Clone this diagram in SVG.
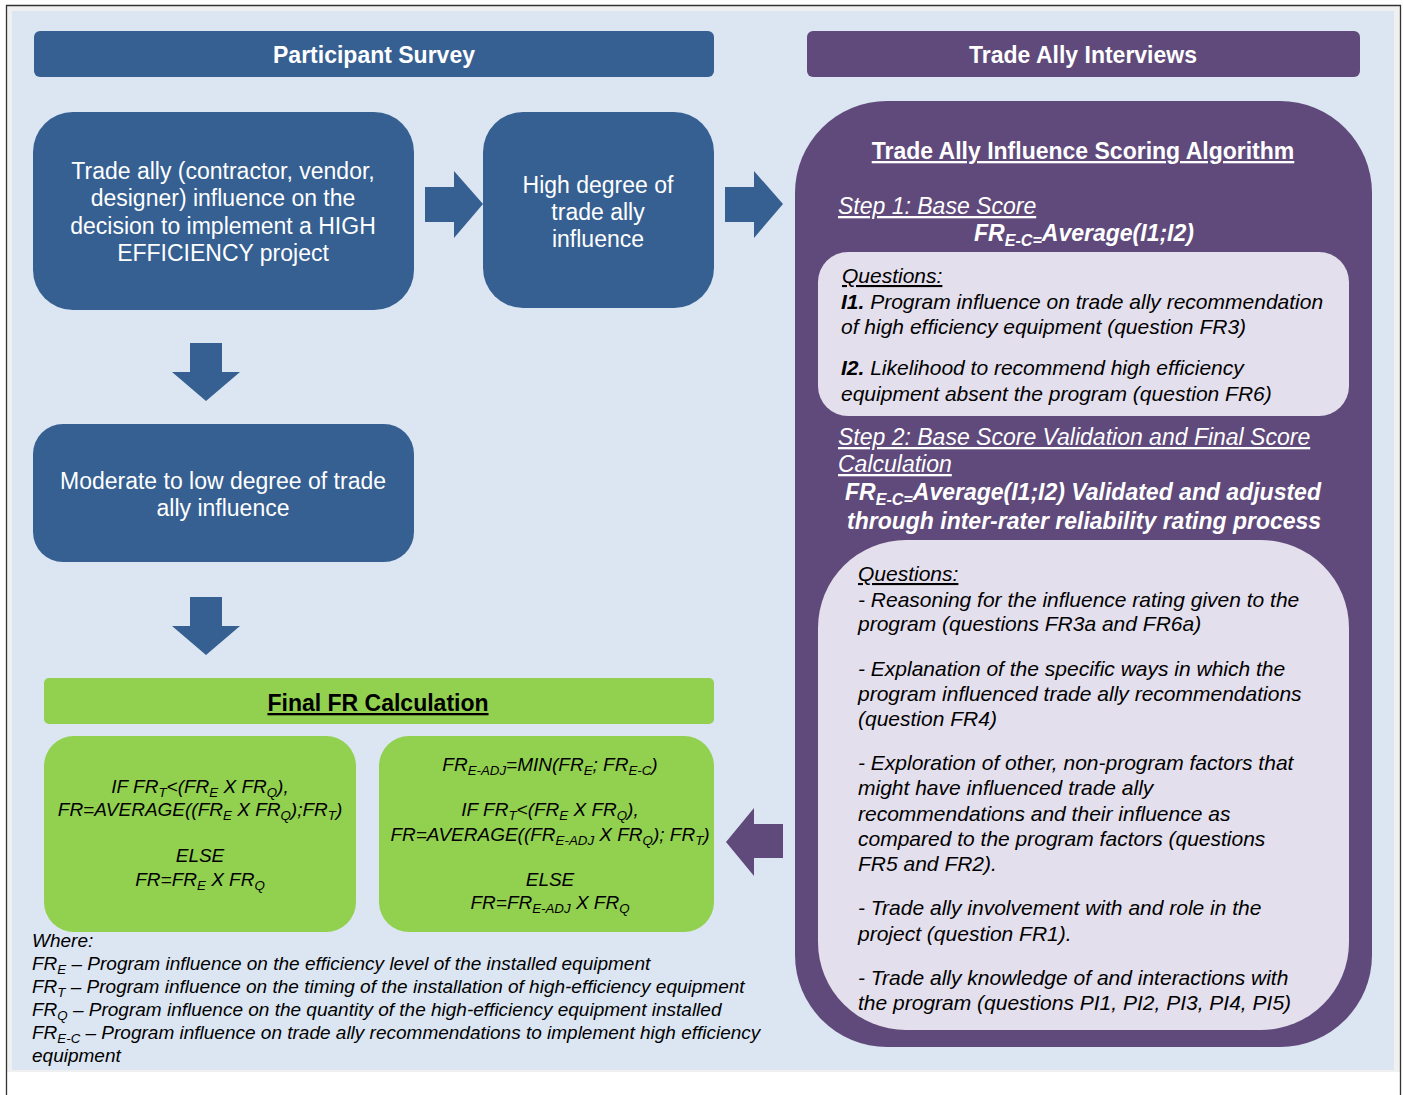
<svg xmlns="http://www.w3.org/2000/svg" width="1404" height="1095" viewBox="0 0 1404 1095">
<defs>
<style>
text{font-family:"Liberation Sans",Arial,sans-serif}
.blue{fill:#366092}
.purple{fill:#604A7B}
.green{fill:#92D050}
.lav{fill:#E4DFEC}
.wt{fill:#fff;font-size:23px;text-anchor:middle}
.hd{fill:#fff;font-size:23px;font-weight:bold;text-anchor:middle}
.pw{fill:#fff;font-size:23px;font-style:italic}
.fb{fill:#fff;font-size:23px;font-weight:bold;font-style:italic}
.q{fill:#000;font-size:21px;font-style:italic}
.f{fill:#000;font-size:19px;font-style:italic;text-anchor:middle}
.w{fill:#000;font-size:19px;font-style:italic}
.u{text-decoration:underline}
.s{font-size:70%}
</style>
</defs>
<rect x="0" y="0" width="1404" height="1095" fill="#fff"/>
<rect x="6" y="5" width="1394" height="1067" fill="#F0F0F0"/>
<path d="M6.5 1095 V5.5 H1400.5 V1095" fill="none" stroke="#333" stroke-width="1.3"/>
<rect x="12" y="11" width="1382" height="1059" fill="#DCE6F2"/>

<g id="connectors">
<polygon class="blue" points="425,187 454,187 454,171 483,204 454,238 454,222 425,222"/>
<polygon class="blue" points="725,187 754,187 754,171 783,204 754,238 754,222 725,222"/>
<polygon class="blue" points="190,343 222,343 222,372 240,372 206,401 172,372 190,372"/>
<polygon class="blue" points="190,597 222,597 222,626 240,626 206,655 172,626 190,626"/>
<polygon class="purple" points="783,824 754,824 754,808 726,842 754,876 754,858 783,858"/>
</g>

<g id="header-participant">
<rect class="blue" x="34" y="31" width="680" height="46" rx="6"/>
<text class="hd" x="374" y="63">Participant Survey</text>
</g>
<g id="header-trade">
<rect class="purple" x="807" y="31" width="553" height="46" rx="6"/>
<text class="hd" x="1083" y="63">Trade Ally Interviews</text>
</g>

<g id="node-trade-ally-influence">
<rect class="blue" x="33" y="112" width="381" height="198" rx="40"/>
<text class="wt" x="223" y="179">Trade ally (contractor, vendor,</text>
<text class="wt" x="223" y="206">designer) influence on the</text>
<text class="wt" x="223" y="234">decision to implement a HIGH</text>
<text class="wt" x="223" y="261">EFFICIENCY project</text>
</g>

<g id="node-high">
<rect class="blue" x="483" y="112" width="231" height="196" rx="40"/>
<text class="wt" x="598" y="193">High degree of</text>
<text class="wt" x="598" y="220">trade ally</text>
<text class="wt" x="598" y="247">influence</text>
</g>

<g id="node-moderate">
<rect class="blue" x="33" y="424" width="381" height="138" rx="30"/>
<text class="wt" x="223" y="489">Moderate to low degree of trade</text>
<text class="wt" x="223" y="516">ally influence</text>
</g>

<g id="node-final-header">
<rect class="green" x="44" y="678" width="670" height="46" rx="5"/>
<text x="378" y="711" font-size="23" font-weight="bold" text-anchor="middle" class="u" fill="#000">Final FR Calculation</text>
</g>

<g id="node-calc-left">
<rect class="green" x="44" y="736" width="312" height="196" rx="30"/>
<text class="f" x="200" y="793">IF FR<tspan class="s" dy="4">T</tspan><tspan dy="-4">&lt;(FR</tspan><tspan class="s" dy="4">E</tspan><tspan dy="-4"> X FR</tspan><tspan class="s" dy="4">Q</tspan><tspan dy="-4">),</tspan></text>
<text class="f" x="200" y="816">FR=AVERAGE((FR<tspan class="s" dy="4">E</tspan><tspan dy="-4"> X FR</tspan><tspan class="s" dy="4">Q</tspan><tspan dy="-4">);FR</tspan><tspan class="s" dy="4">T</tspan><tspan dy="-4">)</tspan></text>
<text class="f" x="200" y="862">ELSE</text>
<text class="f" x="200" y="886">FR=FR<tspan class="s" dy="4">E</tspan><tspan dy="-4"> X FR</tspan><tspan class="s" dy="4">Q</tspan></text>
</g>

<g id="node-calc-right">
<rect class="green" x="379" y="736" width="335" height="196" rx="30"/>
<text class="f" x="550" y="771">FR<tspan class="s" dy="4">E-ADJ</tspan><tspan dy="-4">=MIN(FR</tspan><tspan class="s" dy="4">E</tspan><tspan dy="-4">; FR</tspan><tspan class="s" dy="4">E-C</tspan><tspan dy="-4">)</tspan></text>
<text class="f" x="550" y="816">IF FR<tspan class="s" dy="4">T</tspan><tspan dy="-4">&lt;(FR</tspan><tspan class="s" dy="4">E</tspan><tspan dy="-4"> X FR</tspan><tspan class="s" dy="4">Q</tspan><tspan dy="-4">),</tspan></text>
<text class="f" x="550" y="841">FR=AVERAGE((FR<tspan class="s" dy="4">E-ADJ</tspan><tspan dy="-4"> X FR</tspan><tspan class="s" dy="4">Q</tspan><tspan dy="-4">); FR</tspan><tspan class="s" dy="4">T</tspan><tspan dy="-4">)</tspan></text>
<text class="f" x="550" y="886">ELSE</text>
<text class="f" x="550" y="909">FR=FR<tspan class="s" dy="4">E-ADJ</tspan><tspan dy="-4"> X FR</tspan><tspan class="s" dy="4">Q</tspan></text>
</g>

<g id="legend">
<text class="w" x="32" y="947">Where:</text>
<text class="w" x="32" y="970">FR<tspan class="s" dy="4">E</tspan><tspan dy="-4"> – Program  influence on the efficiency level of the installed equipment</tspan></text>
<text class="w" x="32" y="993">FR<tspan class="s" dy="4">T</tspan><tspan dy="-4"> – Program  influence on the timing of the installation of high-efficiency  equipment</tspan></text>
<text class="w" x="32" y="1016">FR<tspan class="s" dy="4">Q</tspan><tspan dy="-4"> – Program  influence on the quantity of the high-efficiency equipment  installed</tspan></text>
<text class="w" x="32" y="1039">FR<tspan class="s" dy="4">E-C</tspan><tspan dy="-4"> – Program  influence on trade ally recommendations  to implement  high efficiency</tspan></text>
<text class="w" x="32" y="1062">equipment</text>
</g>

<g id="node-algorithm">
<rect class="purple" x="795" y="101" width="577" height="946" rx="92"/>
<text class="hd u" x="1083" y="159">Trade Ally Influence Scoring Algorithm</text>
<text class="pw u" x="838" y="214">Step 1: Base Score</text>
<text class="fb" x="1084" y="241" text-anchor="middle">FR<tspan class="s" dy="5">E-C=</tspan><tspan dy="-5">Average(I1;I2)</tspan></text>
<rect class="lav" x="818" y="252" width="531" height="164" rx="30"/>
<text class="q u" x="842" y="283">Questions:</text>
<text class="q" x="841" y="309"><tspan font-weight="bold">I1.</tspan> Program influence on trade ally recommendation</text>
<text class="q" x="841" y="334">of high efficiency equipment  (question FR3)</text>
<text class="q" x="841" y="375"><tspan font-weight="bold">I2.</tspan> Likelihood to recommend high efficiency</text>
<text class="q" x="841" y="401">equipment absent the program (question FR6)</text>
<text class="pw u" x="838" y="445">Step 2: Base Score Validation and Final Score</text>
<text class="pw u" x="838" y="472">Calculation</text>
<text class="fb" x="845" y="500">FR<tspan class="s" dy="5">E-C=</tspan><tspan dy="-5">Average(I1;I2)  Validated and adjusted</tspan></text>
<text class="fb" x="847" y="529">through inter-rater reliability  rating process</text>
<rect class="lav" x="818" y="540" width="531" height="490" rx="88"/>
<text class="q u" x="858" y="581">Questions:</text>
<text class="q" x="858" y="607">- Reasoning for the influence rating given to the</text>
<text class="q" x="858" y="631">program (questions FR3a and FR6a)</text>
<text class="q" x="858" y="676">- Explanation of the specific ways in which the</text>
<text class="q" x="858" y="701">program influenced trade ally recommendations</text>
<text class="q" x="858" y="726">(question FR4)</text>
<text class="q" x="858" y="770">- Exploration of other, non-program factors that</text>
<text class="q" x="858" y="795">might have influenced trade ally</text>
<text class="q" x="858" y="821">recommendations and their influence as</text>
<text class="q" x="858" y="846">compared to the program factors (questions</text>
<text class="q" x="858" y="871">FR5 and FR2).</text>
<text class="q" x="858" y="915">- Trade ally involvement with and role in the</text>
<text class="q" x="858" y="941">project (question FR1).</text>
<text class="q" x="858" y="985">- Trade ally knowledge of and interactions with</text>
<text class="q" x="858" y="1010">the program (questions PI1, PI2, PI3, PI4, PI5)</text>
</g>
</svg>
